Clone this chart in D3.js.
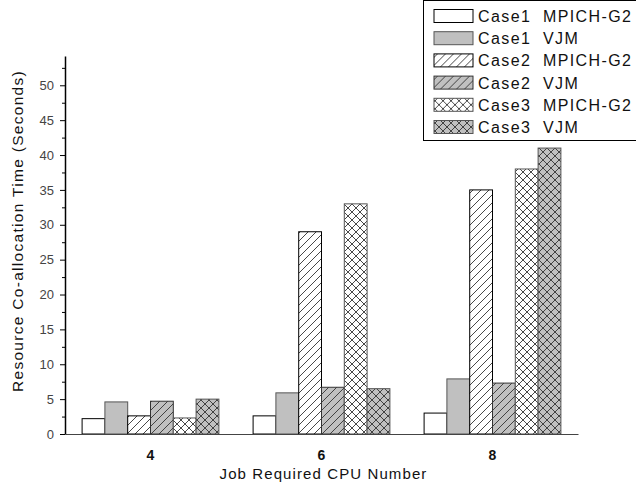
<!DOCTYPE html>
<html>
<head>
<meta charset="utf-8">
<script src="https://cdn.jsdelivr.net/npm/d3@7"></script>
<style>
  body { margin: 0; background: #fff; }
  svg { display: block; font-family: "Liberation Sans", Arial, sans-serif; }
</style>
</head>
<body>
<svg id="mySvg" width="636" height="487"></svg>
<script>
// data
var cpus = ["4", "6", "8"];
var seriesNames = ["Case1  MPICH-G2", "Case1  VJM", "Case2  MPICH-G2", "Case2  VJM", "Case3  MPICH-G2", "Case3  VJM"];
var case1Mpich = [2.2, 2.6, 3.0];
var case1Vjm   = [4.6, 5.9, 7.9];
var case2Mpich = [2.6, 29.0, 35.0];
var case2Vjm   = [4.7, 6.7, 7.3];
var case3Mpich = [2.3, 33.0, 38.0];
var case3Vjm   = [5.0, 6.5, 41.0];
var yTicks = [0, 5, 10, 15, 20, 25, 30, 35, 40, 45, 50];

var values = [case1Mpich, case1Vjm, case2Mpich, case2Vjm, case3Mpich, case3Vjm];
var fills = ["#fff", "url(#p1v)", "url(#p2m)", "url(#p2v)", "url(#p3m)", "url(#p3v)"];
var strokes = ["#000", "#555", "#000", "#333", "#555", "#555"];

var width = 636, height = 487;
var marginLeft = 65, marginRight = 58, marginTop = 56, marginBottom = 53;

var svg = d3.select("#mySvg");

// hatch patterns
var defs = svg.append("defs");
function hatch(id, bg, cross) {
  var p = defs.append("pattern")
      .attr("id", id)
      .attr("patternUnits", "userSpaceOnUse")
      .attr("width", 8).attr("height", 8);
  p.append("rect").attr("width", 8).attr("height", 8).attr("fill", bg);
  p.append("path")
      .attr("d", "M-2,10 L10,-2 M-2,2 L2,-2 M6,10 L10,6")
      .attr("stroke", "#333").attr("stroke-width", 0.9);
  if (cross) {
    p.append("path")
        .attr("d", "M-2,-2 L10,10 M6,-2 L10,2 M-2,6 L2,10")
        .attr("stroke", "#333").attr("stroke-width", 0.9);
  }
}
defs.append("pattern").attr("id", "p1v").attr("patternUnits", "userSpaceOnUse")
    .attr("width", 8).attr("height", 8)
  .append("rect").attr("width", 8).attr("height", 8).attr("fill", "#c0c0c0");
hatch("p2m", "#fff", false);
hatch("p2v", "#c0c0c0", false);
hatch("p3m", "#fff", true);
hatch("p3v", "#c0c0c0", true);

var x0 = d3.scaleBand()
    .domain(cpus)
    .range([marginLeft, width - marginRight])
    .padding(0);
var bw = x0.bandwidth();
var x1 = d3.scaleBand()
    .domain(d3.range(seriesNames.length))
    .range([bw * 0.1, bw * 0.9]);
var y = d3.scaleLinear()
    .domain([0, 54.2])
    .range([height - marginBottom, marginTop]);

// bars
var groups = svg.append("g").selectAll("g")
  .data(cpus)
  .join("g")
    .attr("transform", d => `translate(${x0(d)},0)`);

groups.selectAll("rect")
  .data((d, i) => values.map((s, k) => ({k: k, v: s[i]})))
  .join("rect")
    .attr("x", d => x1(d.k))
    .attr("y", d => y(d.v))
    .attr("width", x1.bandwidth())
    .attr("height", d => y(0) - y(d.v))
    .attr("fill", d => fills[d.k])
    .attr("stroke", d => strokes[d.k])
    .attr("stroke-width", 1);

// x axis
svg.append("g")
    .attr("transform", `translate(0,${y(0)})`)
    .call(d3.axisBottom(x0).tickSize(0).tickPadding(16))
    .call(g => g.select(".domain").attr("stroke", "#444").attr("stroke-width", 1.2))
    .call(g => g.selectAll(".tick text")
        .attr("font-size", 14).attr("font-weight", "bold").attr("fill", "#111")
        .attr("font-family", "'Liberation Sans', Arial, sans-serif"));

// y axis: minor ticks then major
svg.append("g")
    .attr("transform", `translate(${marginLeft},0)`)
    .call(d3.axisLeft(y).tickValues(d3.range(2.5, 54, 5)).tickSize(3).tickFormat(""))
    .call(g => g.select(".domain").remove());
svg.append("g")
    .attr("transform", `translate(${marginLeft},0)`)
    .call(d3.axisLeft(y).tickValues(yTicks).tickSize(5).tickPadding(6).tickSizeOuter(0))
    .call(g => g.select(".domain").attr("stroke-width", 1.5))
    .call(g => g.selectAll(".tick text")
        .attr("font-size", 13).attr("fill", "#444")
        .attr("font-family", "'Liberation Sans', Arial, sans-serif"));

// axis titles
svg.append("text")
    .attr("x", (marginLeft + width - marginRight) / 2 + 2)
    .attr("y", 479)
    .attr("text-anchor", "middle")
    .attr("font-size", 15)
    .attr("letter-spacing", 1.1)
    .attr("fill", "#111")
    .text("Job Required CPU Number");

svg.append("text")
    .attr("transform", `translate(23,${(marginTop + height - marginBottom) / 2 - 14}) rotate(-90)`)
    .attr("text-anchor", "middle")
    .attr("font-size", 15.5)
    .attr("letter-spacing", 1.3)
    .attr("fill", "#111")
    .text("Resource Co-allocation Time (Seconds)");

// legend
var legend = svg.append("g").attr("transform", "translate(423,0)");
legend.append("rect")
    .attr("x", 0.5).attr("y", 0.5)
    .attr("width", 230).attr("height", 140)
    .attr("fill", "#fff").attr("stroke", "#000");
var item = legend.selectAll("g.item")
  .data(seriesNames)
  .join("g")
    .attr("class", "item")
    .attr("transform", (d, i) => `translate(0,${16 + i * 22.2})`);
item.append("rect")
    .attr("x", 11).attr("y", -6.5)
    .attr("width", 39).attr("height", 13)
    .attr("fill", (d, i) => fills[i])
    .attr("stroke", (d, i) => strokes[i]);
item.append("text")
    .attr("x", 55)
    .attr("y", 6)
    .attr("font-size", 16)
    .attr("letter-spacing", 1.4)
    .attr("fill", "#111")
    .attr("xml:space", "preserve")
    .style("white-space", "pre")
    .text(d => d);
</script>
</body>
</html>
